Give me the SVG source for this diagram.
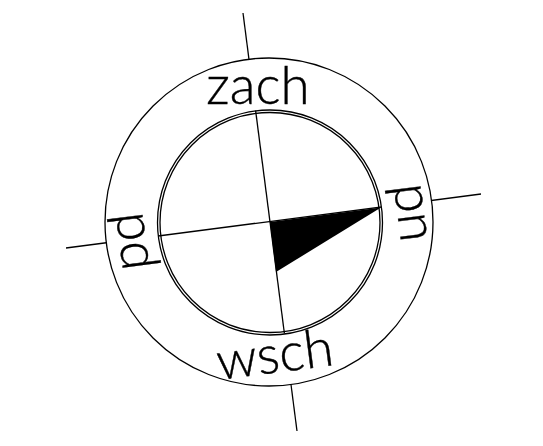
<svg xmlns="http://www.w3.org/2000/svg" width="543" height="446" viewBox="0 0 543 446">
<style>
.ln{stroke:#000;stroke-width:1.3;fill:none}
.lbl{font-family:Lato,"Liberation Sans",sans-serif;font-weight:300;font-size:53px;fill:#000;stroke:#000;stroke-width:0.4;text-anchor:middle}
</style>
<rect width="543" height="446" fill="#fff"/>
<g id="connectors">
<line class="ln" x1="243" y1="13" x2="297" y2="431"/>
<line class="ln" x1="66" y1="248" x2="481" y2="194"/>
</g>
<g id="ring">
<path d="M105,222 a164,164 0 1,0 328,0 a164,164 0 1,0 -328,0 Z M157.5,222 a112.5,112.5 0 1,0 225,0 a112.5,112.5 0 1,0 -225,0 Z" fill="#fff" fill-rule="evenodd" stroke="none"/>
<circle class="ln" cx="269" cy="222" r="164"/>
<circle class="ln" cx="270" cy="222.5" r="112.5"/>
<circle class="ln" cx="270" cy="222.5" r="110"/>
</g>
<g id="needle">
<polygon points="270,222 381,207.5 276,272" fill="#000"/>
</g>
<g id="zach"><text class="lbl" x="258" y="104">zach</text></g>
<g id="wsch"><text class="lbl" transform="translate(277,372.5) rotate(-7.4)" x="0" y="0">wsch</text></g>
<g id="pd"><text class="lbl" transform="translate(119.5,243) rotate(82.6)" x="0" y="0">pd</text></g>
<g id="pn"><text class="lbl" transform="translate(397.5,214.5) rotate(82.6)" x="0" y="0">pn</text></g>
</svg>
